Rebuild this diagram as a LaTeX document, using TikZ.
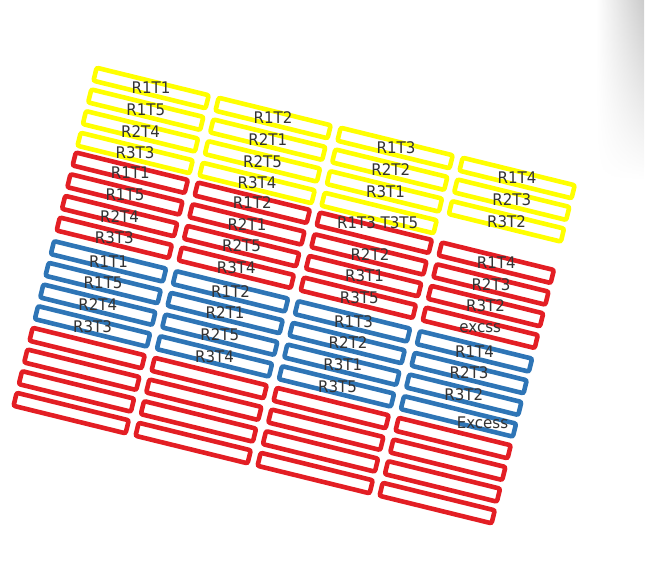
\documentclass[tikz,border=0pt]{standalone}
\usepackage{fontspec}
\setmainfont{DejaVu Sans}[FakeStretch=0.94]
\usetikzlibrary{fadings,calc}
\definecolor{yel}{RGB}{255,255,0}
\definecolor{rd}{RGB}{227,30,36}
\definecolor{bl}{RGB}{46,117,182}
\definecolor{txt}{RGB}{51,51,51}
\tikzfading[name=shadowfade, top color=transparent!40, middle color=transparent!0, bottom color=transparent!100]
\begin{document}
\begin{tikzpicture}[x=1pt,y=-1pt,
  slot/.style={draw=#1, line width=4.6pt, rounded corners=2pt, rotate=-13.8,
    minimum width=115.4pt, minimum height=13.4pt, inner sep=0pt, outer sep=0pt},
  lbl/.style={text=txt, font=\fontsize{16}{16}\selectfont, inner sep=0pt}]
\useasboundingbox (0,0) rectangle (649,576);
% window-edge shadow
\shade[left color=white, right color=black!34, path fading=shadowfade] (596,0) rectangle (644,180);
% slots
\foreach \c in {0,...,3}{
  \foreach \r in {0,...,15}{
    \pgfmathtruncatemacro\grp{int(\r/4)}
    \pgfmathtruncatemacro\skipit{(\c==3)&&(\r==3)}
    \ifnum\grp=0 \def\col{yel}\fi
    \ifnum\grp=1 \def\col{rd}\fi
    \ifnum\grp=2 \def\col{bl}\fi
    \ifnum\grp=3 \def\col{rd}\fi
    \pgfmathsetmacro\sh{\grp==1 ? 2 : 0}
    \pgfmathsetmacro\px{151.1+122*\c-5.33*\r+0.24*\sh}
    \pgfmathsetmacro\py{88+30*\c+21.67*\r-0.97*\sh}
    \ifnum\skipit=0
      \node[slot=\col] (c\c r\r) at (\px,\py) {};
    \fi
  }
}
% labels
\foreach \c/\r/\t in {0/0/R1T1,0/1/R1T5,0/2/R2T4,0/3/R3T3,
                      0/4/R1T1,0/5/R1T5,0/6/R2T4,0/7/R3T3,
                      0/8/R1T1,0/9/R1T5,0/10/R2T4,0/11/R3T3,
                      1/0/R1T2,1/1/R2T1,1/2/R2T5,1/3/R3T4,
                      1/4/R1T2,1/5/R2T1,1/6/R2T5,1/7/R3T4,
                      1/8/R1T2,1/9/R2T1,1/10/R2T5,1/11/R3T4}
  \node[lbl] (t\c-\r) at (c\c r\r.center) {\t};
\foreach \c/\r/\t in {2/0/R1T3,2/1/R2T2,2/2/R3T1,
                      2/5/R2T2,2/6/R3T1,2/7/R3T5,
                      2/8/R1T3,2/9/R2T2,2/10/R3T1,2/11/R3T5}
  \node[lbl, xshift=1pt] (t\c-\r) at (c\c r\r.center) {\t};
\foreach \c/\r/\t in {3/0/R1T4,3/1/R2T3,3/2/R3T2,
                      3/4/R1T4,3/5/R2T3,3/6/R3T2,3/7/excss,
                      3/8/R1T4,3/9/R2T3,3/10/R3T2}
  \node[lbl] (t\c-\r) at (c\c r\r.center) {\t};
\node[lbl] (tmix) at ($(c2r3.center)!0.5!(c2r4.center)+(1,0)$) {R1T3 T3T5};
\node[lbl] (texcess) at ($(c3r11.center)+(24,6.7)$) {Excess};
\end{tikzpicture}
\end{document}
